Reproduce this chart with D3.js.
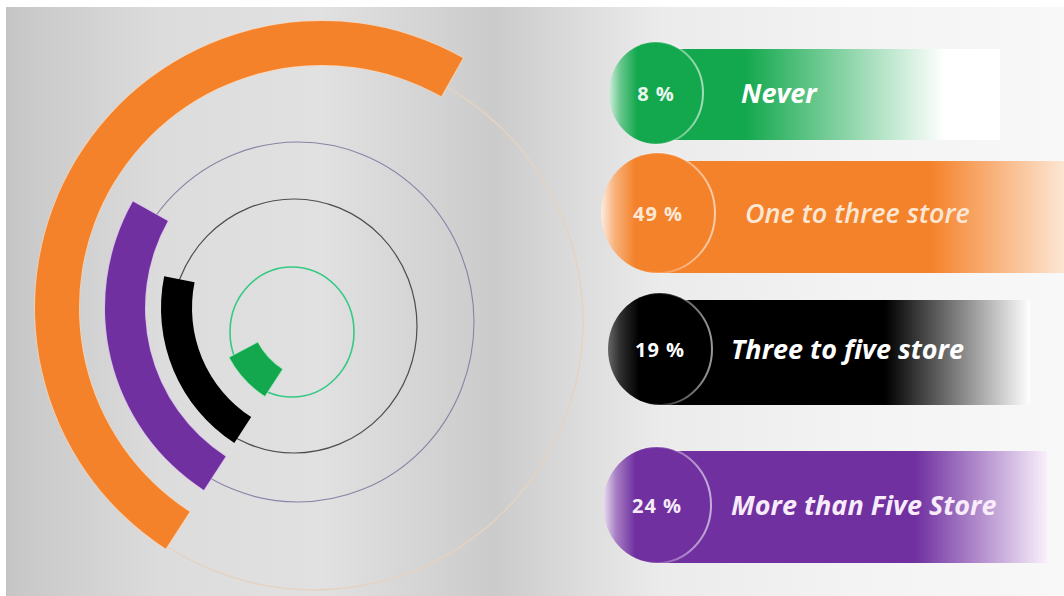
<!DOCTYPE html>
<html>
<head>
<meta charset="utf-8">
<script src="https://cdn.jsdelivr.net/npm/d3@7"></script>
<style>
  html, body { margin: 0; padding: 0; background: #ffffff; }
  svg { display: block; }
</style>
</head>
<body>
<svg id="chart" width="1064" height="596"></svg>
<script>
// ---- data ----
const categories = ["Never", "One to three store", "Three to five store", "More than Five Store"];
const percentages = [8, 49, 19, 24];
const percentLabels = percentages.map(v => v + " %");
const seriesColors = ["#13a84d", "#f4822b", "#000000", "#7030a0"];
const haloColors = ["#9fe6bd", "#ffd2ad", null, "#d9b8f0"];

// ---- layout ----
const W = 1064, H = 596;
const ringCenter = { x: 322, y: 308 };
const ringRadii = [[73, 105], [243, 287], [130, 161], [177, 217]];
const startDeg = 213;

const guideRings = [
  { cx: 314, cy: 321, rx: 269, ry: 269, stroke: "#e4d3c2", width: 1.6 },
  { cx: 298, cy: 322, rx: 176, ry: 180, stroke: "#8a82a6", width: 1.1 },
  { cx: 294, cy: 326, rx: 123, ry: 127, stroke: "#4d4d52", width: 1.2 },
  { cx: 292, cy: 332, rx: 62,  ry: 65,  stroke: "#35c984", width: 1.6 }
];

const legendRows = [
  { cx: 656, cy: 93,  rx: 47, ry: 51, y0: 49,  y1: 140, solid: 745, fade: 945,  end: 1000, endColor: "#ffffff", textX: 741, pctFill: "#eaf7ee", textFill: "#ffffff", weight: 700, edge: 0.8 },
  { cx: 658, cy: 213, rx: 57, ry: 60, y0: 161, y1: 273, solid: 930, fade: 1064, end: 1064, endColor: "#fde6d3", textX: 745, pctFill: "#fde9d8", textFill: "#fce7d4", weight: 600, edge: 0.85 },
  { cx: 660, cy: 349, rx: 52, ry: 56, y0: 300, y1: 405, solid: 885, fade: 1030, end: 1030, endColor: "#ffffff", textX: 731, pctFill: "#ffffff", textFill: "#ffffff", weight: 700, edge: 0.4 },
  { cx: 657, cy: 505, rx: 54, ry: 58, y0: 451, y1: 563, solid: 915, fade: 1047, end: 1047, endColor: "#f8effb", textX: 731, pctFill: "#f6ecf8", textFill: "#f8ecfa", weight: 700, edge: 0.85 }
];

const svg = d3.select("#chart");
const defs = svg.append("defs");

// background panel gradient
const bg = defs.append("linearGradient").attr("id", "bg")
  .attr("gradientUnits", "userSpaceOnUse").attr("x1", 0).attr("y1", 0).attr("x2", W).attr("y2", 0);
[[0, "#c3c3c3"], [25, "#c9c9c9"], [160, "#dcdcdc"], [320, "#e1e1e1"], [440, "#d2d2d2"],
 [495, "#cbcbcb"], [585, "#dddddd"], [660, "#ebebeb"], [850, "#f3f3f3"], [1064, "#f8f8f8"]]
  .forEach(([x, c]) => bg.append("stop").attr("offset", x / W).attr("stop-color", c));

svg.append("rect").attr("width", W).attr("height", H).attr("fill", "#ffffff");
svg.append("rect").attr("x", 6).attr("y", 7).attr("width", W - 6).attr("height", H - 7).attr("fill", "url(#bg)");

// ---- radial bars ----
const angle = d3.scaleLinear().domain([0, 100]).range([0, 2 * Math.PI]);
const a0 = startDeg * Math.PI / 180;

const guides = svg.append("g");
guides.selectAll("ellipse").data(guideRings).join("ellipse")
  .attr("cx", d => d.cx).attr("cy", d => d.cy)
  .attr("rx", d => d.rx).attr("ry", d => d.ry)
  .attr("fill", "none").attr("stroke", d => d.stroke).attr("stroke-width", d => d.width);

const arc = d3.arc()
  .innerRadius((d, i) => ringRadii[i][0])
  .outerRadius((d, i) => ringRadii[i][1])
  .startAngle(a0)
  .endAngle(d => a0 + angle(d));

svg.append("g")
  .attr("transform", `translate(${ringCenter.x},${ringCenter.y})`)
  .selectAll("path").data(percentages).join("path")
  .attr("d", (d, i) => arc(d, i))
  .attr("fill", (d, i) => seriesColors[i])
  .attr("stroke", (d, i) => haloColors[i] || "none")
  .attr("stroke-width", 1.6)
  .attr("stroke-opacity", 0.8)
  .style("paint-order", "stroke");

// ---- legend ----
legendRows.forEach((r, i) => {
  const c = seriesColors[i];
  const g = defs.append("linearGradient").attr("id", "bar" + i)
    .attr("gradientUnits", "userSpaceOnUse").attr("x1", r.cx).attr("y1", 0).attr("x2", r.end).attr("y2", 0);
  const span = r.end - r.cx;
  g.append("stop").attr("offset", 0).attr("stop-color", c);
  g.append("stop").attr("offset", (r.solid - r.cx) / span).attr("stop-color", c);
  g.append("stop").attr("offset", (r.fade - r.cx) / span).attr("stop-color", r.endColor);
  g.append("stop").attr("offset", 1).attr("stop-color", r.endColor);

  // badge fill: light left edge blending into the series colour
  const mix = d3.interpolateRgb(c, "#ffffff");
  const f = defs.append("linearGradient").attr("id", "badge" + i)
    .attr("x1", 0).attr("y1", 0).attr("x2", 1).attr("y2", 0);
  f.append("stop").attr("offset", 0).attr("stop-color", mix(r.edge));
  f.append("stop").attr("offset", 0.12).attr("stop-color", mix(r.edge * 0.45));
  f.append("stop").attr("offset", 0.3).attr("stop-color", c);
  f.append("stop").attr("offset", 1).attr("stop-color", c);

  const rim = defs.append("linearGradient").attr("id", "rim" + i)
    .attr("x1", 0).attr("y1", 0).attr("x2", 1).attr("y2", 0);
  rim.append("stop").attr("offset", 0.3).attr("stop-color", "#ffffff").attr("stop-opacity", 0);
  rim.append("stop").attr("offset", 0.75).attr("stop-color", "#ffffff").attr("stop-opacity", 0.4);
  rim.append("stop").attr("offset", 1).attr("stop-color", "#ffffff").attr("stop-opacity", 0.6);
});

const rows = svg.append("g").selectAll("g").data(categories).join("g");

rows.append("rect")
  .attr("x", (d, i) => legendRows[i].cx)
  .attr("y", (d, i) => legendRows[i].y0)
  .attr("width", (d, i) => legendRows[i].end - legendRows[i].cx)
  .attr("height", (d, i) => legendRows[i].y1 - legendRows[i].y0)
  .attr("fill", (d, i) => `url(#bar${i})`);

rows.append("ellipse")
  .attr("cx", (d, i) => legendRows[i].cx).attr("cy", (d, i) => legendRows[i].cy)
  .attr("rx", (d, i) => legendRows[i].rx).attr("ry", (d, i) => legendRows[i].ry)
  .attr("fill", (d, i) => `url(#badge${i})`)
  .attr("stroke", (d, i) => `url(#rim${i})`)
  .attr("stroke-width", 2);

rows.append("text")
  .attr("x", (d, i) => legendRows[i].cx)
  .attr("y", (d, i) => legendRows[i].cy + 8)
  .attr("text-anchor", "middle")
  .attr("font-family", "'Open Sans', sans-serif")
  .attr("font-weight", 700)
  .attr("font-size", 20)
  .attr("letter-spacing", 1)
  .attr("fill", (d, i) => legendRows[i].pctFill)
  .text((d, i) => percentLabels[i]);

rows.append("text")
  .attr("x", (d, i) => legendRows[i].textX)
  .attr("y", (d, i) => legendRows[i].cy + 10)
  .attr("font-family", "'Open Sans', sans-serif")
  .attr("font-style", "italic")
  .attr("font-weight", (d, i) => legendRows[i].weight)
  .attr("font-size", 27)
  .attr("fill", (d, i) => legendRows[i].textFill)
  .text(d => d);
</script>
</body>
</html>
